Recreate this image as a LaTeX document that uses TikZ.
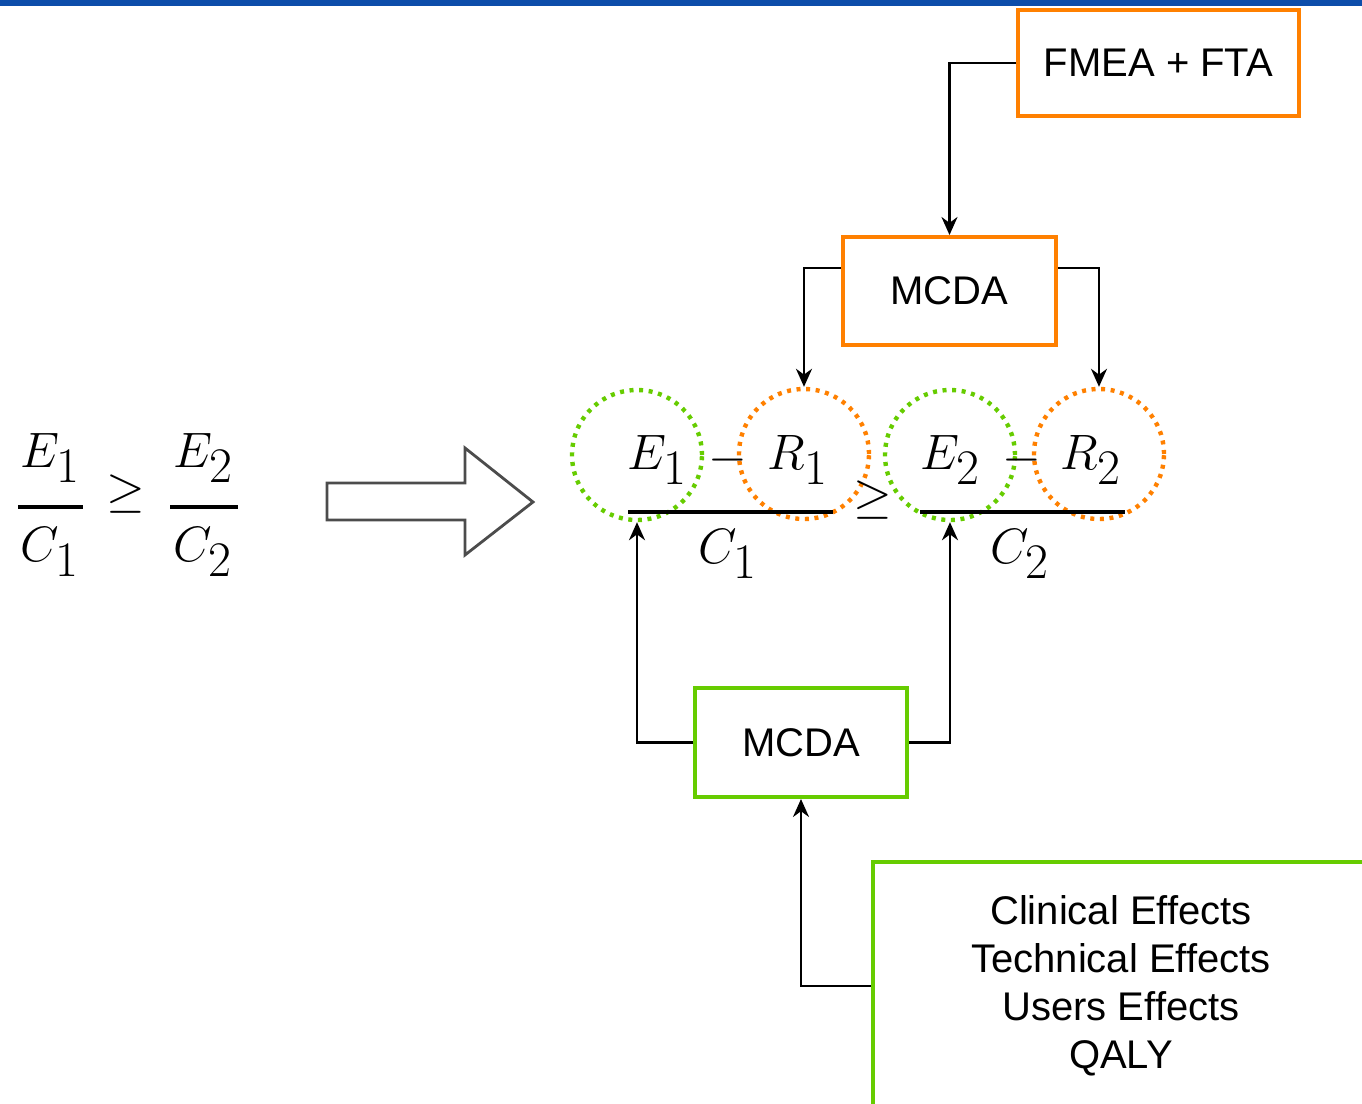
\documentclass[tikz,border=0pt]{standalone}
\usepackage{fontspec}
\setmainfont{Liberation Sans}
\usetikzlibrary{arrows.meta,calc}
\definecolor{dorange}{HTML}{FF8000}
\definecolor{dgreen}{HTML}{66CC00}
\definecolor{topblue}{HTML}{0D4DAA}
\begin{document}
\begin{tikzpicture}[x=0.5pt,y=-0.5pt,
  boxbase/.style={rectangle, line width=2pt, fill=white, inner sep=0pt, align=center,
    font=\fontsize{20}{24}\selectfont},
  obox/.style={boxbase, draw=dorange},
  gbox/.style={boxbase, draw=dgreen},
  ring/.style={circle, inner sep=0pt, minimum size=65pt, line width=2.2pt, dash pattern=on 2pt off 2.8pt},
  oring/.style={ring, draw=dorange},
  gring/.style={ring, draw=dgreen},
  mtext/.style={inner sep=0pt, font=\fontsize{34}{40}\selectfont},
  conn/.style={draw=black, line width=1.3pt, -{Stealth[length=9pt,width=8pt]}},
  fbar/.style={line width=1.7pt, black}]
\useasboundingbox (0,0) rectangle (1362,1104);
\clip (0,0) rectangle (1362,1104);
\fill[topblue] (0,0) rectangle (1362,6);

% boxes
\node[obox, minimum width=140.5pt, minimum height=53pt] (fmea) at (1158.5,63) {FMEA + FTA};
\node[obox, minimum width=106.5pt, minimum height=54pt] (mcdaO) at (949.5,291) {MCDA};
\node[gbox, minimum width=106pt, minimum height=54.5pt] (mcdaG) at (801,742.5) {MCDA};
\node[gbox, minimum width=248.5pt, minimum height=124pt] (eff) at (1121,986)
  {Clinical Effects\\Technical Effects\\Users Effects\\QALY};

% rings
\node[gring] (ce1) at (637,455) {};
\node[oring] (cr1) at (804,454) {};
\node[gring] (ce2) at (950,455) {};
\node[oring] (cr2) at (1099,454) {};

% left formula
\node[mtext] (lE1) at (50,458) {$E_1$};
\node[mtext] (lC1) at (50,552) {$C_1$};
\node[mtext] (lgeq) at (126,494) {$\geq$};
\node[mtext] (lE2) at (203,458) {$E_2$};
\node[mtext] (lC2) at (203,552) {$C_2$};
\coordinate (lb1a) at (18,507); \coordinate (lb1b) at (83,507);
\coordinate (lb2a) at (170,507); \coordinate (lb2b) at (238,507);
\draw[fbar] (lb1a) -- (lb1b);
\draw[fbar] (lb2a) -- (lb2b);

% hollow arrow
\draw[black!70, line width=1.4pt, line join=miter, fill=white]
  (327,483) -- (465,483) -- (465,448) -- (533,502) -- (465,555) -- (465,520) -- (327,520) -- cycle;

% right formula
\node[mtext] (rE1) at (657,460) {$E_1$};
\node[mtext] (rm1) at (728,460) {$-$};
\node[mtext] (rR1) at (798,460) {$R_1$};
\node[mtext] (rC1) at (728,554) {$C_1$};
\node[mtext] (rgeq) at (873,500) {$\geq$};
\node[mtext] (rE2) at (950,460) {$E_2$};
\node[mtext] (rm2) at (1022,460) {$-$};
\node[mtext] (rR2) at (1091,460) {$R_2$};
\node[mtext] (rC2) at (1020,554) {$C_2$};
\coordinate (rb1a) at (628,512); \coordinate (rb1b) at (833,512);
\coordinate (rb2a) at (920,512); \coordinate (rb2b) at (1125,512);
\draw[fbar] (rb1a) -- (rb1b);
\draw[fbar] (rb2a) -- (rb2b);

% connectors
\draw[conn] (fmea.west) -| (mcdaO.north);
\draw[conn] ($(mcdaO.west)+(0,-23)$) -| (cr1.north);
\draw[conn] ($(mcdaO.east)+(0,-23)$) -| (cr2.north);
\draw[conn] (mcdaG.west) -| (ce1.south);
\draw[conn] (mcdaG.east) -| (ce2.south);
\draw[conn] (eff.west) -| (mcdaG.south);
\end{tikzpicture}
\end{document}
